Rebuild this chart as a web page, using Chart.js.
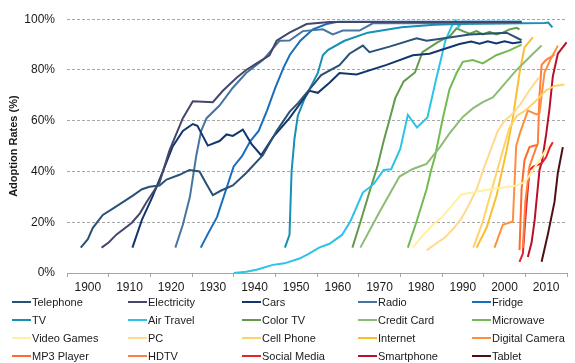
<!DOCTYPE html>
<html>
<head>
<meta charset="utf-8">
<script src="https://cdn.jsdelivr.net/npm/chart.js@4.4.1/dist/chart.umd.min.js"></script>
<style>
  body { margin: 0; background: #fff; font-family: "Liberation Sans", Arial, sans-serif; }
  #wrap { position: relative; width: 575px; height: 363px; }
  #legend { position: absolute; left: 0; top: 0; width: 575px; height: 363px; pointer-events: none; }
  .item { position: absolute; display: flex; align-items: center; height: 14px; font-size: 11px; color: #1a1a1a; white-space: nowrap; }
  .item i { display: inline-block; width: 19px; height: 2px; margin-right: 1px; }
</style>
</head>
<body>
<div id="wrap">
  <canvas id="adoptionChart" width="575" height="363"></canvas>
  <div id="legend"></div>
</div>
<script>
// adoption rates, [year, percent]
const telephone = [[1898.3,10],[1900,13.3],[1901.2,17.8],[1903.6,22.9],[1906,25.4],[1908.5,28],[1910.8,30.5],[1913,33],[1914.8,34],[1917.2,34.5],[1918.9,36.8],[1922,38.7],[1924.4,40.6],[1926.8,40],[1928.5,35],[1930,30.7],[1932,32.5],[1934.8,34.5],[1938,39.4],[1942,46.4],[1945.3,55.9],[1948.4,63.5],[1950.5,67],[1953,72],[1956,78],[1960.4,81.9],[1962.8,86.4],[1966,89.6],[1967.6,87],[1972.4,89.2],[1978.9,92.5],[1981.3,91.5],[1986.8,92.8],[1991.6,94],[2000.5,94.7],[2004.1,91.7]];
const electricity = [[1903.3,10],[1905,12],[1906.9,15.2],[1910.5,19.7],[1912.5,23.5],[1914.1,28],[1917.2,35.6],[1919.6,48.3],[1922.8,61],[1925.2,67.7],[1927.6,67.5],[1930,67.3],[1932.4,71.8],[1935.7,76.9],[1938,80],[1940.5,82.6],[1943.6,85.8],[1945.3,91.5],[1948.4,94.7],[1952.5,98.1],[1958,98.9],[2004.1,98.9]];
const cars = [[1910.7,10],[1913,21],[1915.5,30],[1918,40],[1920.4,50],[1922.8,56],[1925.2,58.7],[1926.3,58],[1928.8,50.2],[1931.6,52],[1933.3,54.6],[1934.8,54],[1937.2,56.5],[1939.3,50.8],[1941.6,46.4],[1944.4,53.4],[1948.4,61],[1953.2,71.8],[1955.2,71],[1958,75],[1960.4,78.8],[1964.5,78.2],[1971.7,82],[1978,85.8],[1982,86.4],[1989.2,90.2],[1992,91.2],[1994,90.3],[1996,91.3],[1998,90.4],[2000,91.3],[2002,90.5],[2004.1,91]];
const radio = [[1921,10],[1922.8,19],[1924.5,30],[1926,46],[1927.2,56],[1928.5,61],[1931.6,66],[1934.8,73],[1938,78.8],[1942,83.9],[1946,91.5],[1948.4,91.6],[1951.6,95.3],[1956.4,96],[1958.8,94],[1961.2,95.5],[1965.2,95.5],[1968.4,98.4],[2004.1,98.5]];
const fridge = [[1927.1,10],[1929,16],[1931,22],[1933,32],[1935,42],[1937,46],[1939,52],[1941,56],[1943,64],[1945,73],[1947,81],[1948.5,86],[1951,91.5],[1954,96],[1957.3,98.1],[1960,99],[2004.1,99]];
const tv = [[1947.3,10],[1948.4,15],[1948.9,40],[1949.6,53],[1950.4,62],[1952,68.6],[1955.2,78.8],[1956.4,85.8],[1957.6,87.8],[1961.6,91.5],[1967.2,94.7],[1975.3,96.8],[1983.2,97.8],[1988.8,98.1],[2009.6,98.5],[2010.5,98.7],[2011.5,96.8]];
const airTravel = [[1935,0],[1938,0.5],[1940.5,1.3],[1944.4,3.2],[1947.2,3.8],[1950.8,5.7],[1953,7.5],[1955.5,10],[1958,11.5],[1961,15],[1963,20.3],[1966,31.7],[1968.6,35],[1971,40.6],[1972.8,40.9],[1975,49],[1976.8,62.3],[1979,57.3],[1981.5,61.3],[1983.4,75],[1985.8,91.5],[1987.4,97.5],[1988.3,99.5],[1989,97],[1990,99],[2004.1,99]];
const colorTv = [[1963.5,10],[1965.4,20],[1967.6,32],[1969.5,42],[1971,52],[1972.5,61],[1973.8,69],[1975.8,75.5],[1978.5,79],[1980.3,87],[1984,91],[1987,93.5],[1988.5,96.4],[1990,95.3],[1991.6,94.3],[1993.3,95.3],[1994.8,94],[1996.4,95],[1998,94],[1999.6,94.7],[2001.2,96],[2002.9,96.6],[2003.6,96]];
const creditCard = [[1965.4,10],[1970,24],[1974.8,38],[1978,41],[1981.3,43],[1984.5,49.6],[1986.8,55],[1990,61.5],[1992.5,65],[1994.8,67.3],[1997.2,69.2],[1999.6,73.7],[2002.9,80],[2006.1,85.2],[2008.9,89.6]];
const microwave = [[1976.8,10],[1978.9,20.3],[1981.3,33],[1982.4,40.6],[1983.3,45.7],[1985.2,61],[1986.8,72.4],[1988.5,78.8],[1990,83.2],[1992.4,83.9],[1994.8,82.6],[1998,85.8],[2001.2,87.7],[2004.1,90]];
const videoGames = [[1978,10],[1980,14],[1982.8,19],[1985,22],[1986.8,25.4],[1989.5,30.8],[1991.5,31.5],[1995,32.5],[1999,33.5],[2003,34.5],[2005,36],[2007,41],[2009,46],[2010.5,50]];
const pc = [[1981.3,8.9],[1983.5,11.5],[1985.7,14],[1988,18],[1989.7,21.6],[1991.5,27],[1993.3,33],[1995.2,42],[1996.8,49],[1998.4,56],[2000,60],[2001.7,62.3],[2003.6,66],[2006,72],[2008.2,77]];
const cellPhone = [[1992.5,10],[1994.8,20.3],[1997.2,34.3],[1999.6,48.3],[2001.2,57.2],[2003,62],[2005,64],[2007,67],[2008,68.6],[2010,72],[2012,73.7],[2014.4,74.3]];
const internet = [[1993.3,10],[1995.7,17.8],[1998.1,30.5],[2000.5,48.3],[2002,61],[2003.6,78.8],[2004.8,88.9],[2006.8,92.8]];
const digitalCamera = [[1997.6,10],[1999.6,19],[2002,20.3],[2002.4,35],[2002.8,50],[2003.6,54.6],[2005.6,64],[2007.7,62.5],[2008.4,63],[2009.6,79],[2011,84],[2012.8,89.6]];
const mp3Player = [[2003.6,9],[2004.1,33],[2004.8,44.5],[2006,49.6],[2007.2,50.2],[2008,50.3]];
const hdtv = [[2004.4,10],[2005,28],[2006,42],[2007.5,49],[2008,51],[2008.4,70],[2008.9,82],[2010,84],[2012,86]];
const socialMedia = [[2003.6,4.4],[2004.4,7.6],[2005.2,25.4],[2006,40.6],[2007,42],[2008.9,43.2],[2010,45.7],[2010.9,49.6],[2011.6,51.5]];
const smartphone = [[2005.6,6.3],[2006.5,12],[2007.2,20.3],[2008.4,40.6],[2009,44],[2010,54.6],[2010.8,64.8],[2011.6,77.5],[2012.8,86.4],[2014.9,90.9]];
const tablet = [[2008.9,4.4],[2010.4,15.2],[2012,28],[2012.8,39.4],[2014,49.6]];

const seriesNames = ['Telephone', 'Electricity', 'Cars', 'Radio', 'Fridge',
  'TV', 'Air Travel', 'Color TV', 'Credit Card', 'Microwave',
  'Video Games', 'PC', 'Cell Phone', 'Internet', 'Digital Camera',
  'MP3 Player', 'HDTV', 'Social Media', 'Smartphone', 'Tablet'];
const seriesData = [telephone, electricity, cars, radio, fridge,
  tv, airTravel, colorTv, creditCard, microwave,
  videoGames, pc, cellPhone, internet, digitalCamera,
  mp3Player, hdtv, socialMedia, smartphone, tablet];
const seriesColors = ['#2a5178', '#45476a', '#12366e', '#4675a0', '#1a6dbd',
  '#1690b4', '#2cc3e6', '#629b4b', '#8bbd75', '#72bb52',
  '#fff0a3', '#ffd98c', '#ffd36b', '#fbbf2e', '#ff8f3f',
  '#ff6b2b', '#ff7f3c', '#e6222b', '#b80f2a', '#4d0f12'];
const yearTicks = [1900, 1910, 1920, 1930, 1940, 1950, 1960, 1970, 1980, 1990, 2000, 2010];

Chart.defaults.font.family = "'Liberation Sans', Arial, sans-serif";
Chart.defaults.color = '#1a1a1a';

const datasets = seriesNames.map((name, i) => ({
  label: name,
  data: seriesData[i].map(p => ({ x: p[0], y: p[1] })),
  borderColor: seriesColors[i],
  backgroundColor: seriesColors[i],
  borderWidth: 2,
  pointRadius: 0,
  tension: 0,
  fill: false
}));

const ctx = document.getElementById('adoptionChart').getContext('2d');
const chart = new Chart(ctx, {
  type: 'line',
  data: { datasets: datasets },
  options: {
    responsive: false,
    animation: false,
    layout: { padding: { top: 11, right: 8, bottom: 70, left: 0 } },
    plugins: {
      legend: { display: false },
      tooltip: { enabled: false }
    },
    scales: {
      x: {
        type: 'linear',
        min: 1895,
        max: 2015,
        afterFit: s => { s.height = 20; },
        grid: {
          drawOnChartArea: false,
          drawTicks: true,
          tickLength: 4,
          tickColor: c => (c.tick && c.tick.value % 10 !== 0) ? '#a6a6a6' : 'rgba(0,0,0,0)'
        },
        border: { display: true, color: '#a6a6a6', width: 1 },
        ticks: {
          stepSize: 5,
          autoSkip: false,
          maxRotation: 0,
          padding: 3,
          font: { size: 12 },
          callback: v => yearTicks.includes(v) ? String(v) : ''
        }
      },
      y: {
        min: 0,
        max: 100,
        afterFit: s => { s.width = 67; },
        grid: {
          drawTicks: false,
          color: c => (c.tick && c.tick.value === 0) ? 'rgba(0,0,0,0)' : '#a6a6a6'
        },
        border: { display: false, dash: [3, 2] },
        ticks: {
          stepSize: 20,
          padding: 12,
          font: { size: 12 },
          callback: v => v + '%'
        },
        title: {
          display: true,
          text: 'Adoption Rates (%)',
          font: { size: 11, weight: 'bold' },
          padding: { top: 7, bottom: 0 }
        }
      }
    }
  }
});

// legend: 5 columns x 4 rows
const legendCols = [12, 128, 242, 358, 472];
const legendRows = [301.5, 319.5, 337.5, 355.5];
const legend = document.getElementById('legend');
seriesNames.forEach((name, i) => {
  const el = document.createElement('div');
  el.className = 'item';
  el.style.left = legendCols[i % 5] + 'px';
  el.style.top = (legendRows[Math.floor(i / 5)] - 7) + 'px';
  const sw = document.createElement('i');
  sw.style.background = seriesColors[i];
  el.appendChild(sw);
  el.appendChild(document.createTextNode(name));
  legend.appendChild(el);
});
</script>
</body>
</html>
